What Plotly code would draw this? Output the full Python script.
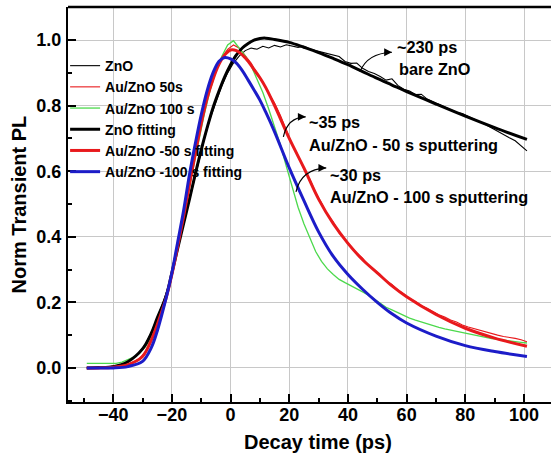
import plotly.graph_objects as go

# ---------------- data ----------------
t_raw = list(range(-49, 102, 2))

zno_raw = [0.0, 0.0, 0.001, 0.002, 0.004, 0.006, 0.01, 0.02, 0.031, 0.048, 0.073, 0.108, 0.152, 0.2,
           0.255, 0.328, 0.4, 0.475, 0.552, 0.628, 0.696, 0.76, 0.812, 0.86, 0.9, 0.93, 0.952, 0.968,
           0.976, 0.972, 0.981, 0.976, 0.984, 0.979, 0.986, 0.983, 0.978, 0.982, 0.973, 0.968, 0.963,
           0.958, 0.954, 0.95, 0.935, 0.929, 0.93, 0.914, 0.904, 0.898, 0.889, 0.878, 0.882, 0.862, 0.85,
           0.845, 0.834, 0.835, 0.82, 0.812, 0.806, 0.797, 0.79, 0.78, 0.776, 0.768, 0.76, 0.75, 0.742,
           0.732, 0.722, 0.71, 0.702, 0.693, 0.678, 0.662]

au50_raw = [0.0, 0.001, 0.0, 0.001, 0.002, 0.004, 0.007, 0.011, 0.018, 0.029, 0.05, 0.087, 0.132, 0.182,
            0.248, 0.33, 0.418, 0.512, 0.61, 0.702, 0.785, 0.855, 0.907, 0.946, 0.972, 0.985, 0.975, 0.952,
            0.93, 0.9, 0.872, 0.838, 0.808, 0.77, 0.726, 0.682, 0.648, 0.605, 0.576, 0.535, 0.503, 0.468,
            0.445, 0.412, 0.392, 0.372, 0.35, 0.335, 0.312, 0.3, 0.282, 0.266, 0.255, 0.238, 0.226, 0.212,
            0.203, 0.19, 0.182, 0.172, 0.162, 0.155, 0.146, 0.14, 0.131, 0.125, 0.12, 0.113, 0.11, 0.103,
            0.1, 0.096, 0.094, 0.09, 0.086, 0.08]

au100_raw = [0.014, 0.014, 0.013, 0.013, 0.012, 0.014, 0.018, 0.025, 0.033, 0.045, 0.065, 0.092, 0.13, 0.185,
             0.252, 0.332, 0.415, 0.505, 0.598, 0.69, 0.772, 0.846, 0.905, 0.95, 0.985, 0.998, 0.975, 0.952,
             0.922, 0.882, 0.84, 0.79, 0.738, 0.68, 0.615, 0.55, 0.49, 0.44, 0.395, 0.355, 0.325, 0.302,
             0.285, 0.27, 0.26, 0.251, 0.243, 0.232, 0.222, 0.21, 0.198, 0.185, 0.177, 0.168, 0.16, 0.152,
             0.146, 0.14, 0.135, 0.13, 0.124, 0.119, 0.115, 0.111, 0.107, 0.103, 0.1, 0.096, 0.092, 0.089,
             0.087, 0.084, 0.082, 0.08, 0.078, 0.076]

t_fit = [-49, -45, -40, -35, -30, -27, -25, -22, -20, -18, -16, -14, -12, -10, -8, -6, -4, -2, 0, 2, 4, 6,
         8, 10, 12, 15, 20, 25, 30, 35, 40, 45, 50, 55, 60, 70, 80, 90, 101]

zno_fit = [0.0, 0.001, 0.004, 0.019, 0.058, 0.106, 0.152, 0.218, 0.29, 0.365, 0.44, 0.515, 0.592, 0.665, 0.732,
           0.793, 0.843, 0.888, 0.925, 0.955, 0.976, 0.99, 1.0, 1.005, 1.006, 1.002, 0.993, 0.978, 0.962,
           0.944, 0.925, 0.904, 0.883, 0.863, 0.843, 0.805, 0.768, 0.733, 0.697]

au50_fit = [0.0, 0.0, 0.002, 0.01, 0.035, 0.085, 0.132, 0.212, 0.285, 0.372, 0.462, 0.56, 0.655, 0.745, 0.822,
            0.88, 0.925, 0.955, 0.97, 0.968, 0.955, 0.935, 0.91, 0.885, 0.855, 0.8, 0.7, 0.61, 0.515, 0.44,
            0.38, 0.33, 0.29, 0.25, 0.217, 0.163, 0.121, 0.091, 0.066]

au100_fit = [0.0, 0.0, 0.0, 0.004, 0.02, 0.062, 0.112, 0.212, 0.29, 0.385, 0.48, 0.59, 0.685, 0.772, 0.845,
             0.9, 0.935, 0.947, 0.943, 0.93, 0.907, 0.878, 0.848, 0.817, 0.78, 0.72, 0.61, 0.51, 0.415,
             0.34, 0.285, 0.24, 0.2, 0.165, 0.137, 0.097, 0.068, 0.05, 0.035]

x_ticks = [-40, -20, 0, 20, 40, 60, 80, 100]
y_ticks = [0.0, 0.2, 0.4, 0.6, 0.8, 1.0]

# ---------------- styles ----------------
FONT = "Arial, Liberation Sans, Helvetica, sans-serif"
RED = "#e8191c"
GREEN = "#4cd94c"
BLUE = "#1c1cc8"
BLACK = "#000000"

fig = go.Figure()
series = [
    ("ZnO", t_raw, zno_raw, BLACK, 1.1, "linear"),
    ("Au/ZnO 50s", t_raw, au50_raw, RED, 1.1, "linear"),
    ("Au/ZnO 100 s", t_raw, au100_raw, GREEN, 1.3, "linear"),
    ("ZnO fitting", t_fit, zno_fit, BLACK, 3, "spline"),
    ("Au/ZnO -50 s fitting", t_fit, au50_fit, RED, 3, "spline"),
    ("Au/ZnO -100 s fitting", t_fit, au100_fit, BLUE, 3, "spline"),
]
for name, xs, ys, col, w, shp in series:
    fig.add_trace(go.Scatter(x=xs, y=ys, mode="lines", name=name,
                             line=dict(color=col, width=w, shape=shp)))

axis_common = dict(
    showgrid=True, gridcolor="#c8c8c8", gridwidth=1, zeroline=False,
    showline=True, linecolor="black", linewidth=2,
    ticks="inside", ticklen=8, tickwidth=2, tickcolor="black",
    tickfont=dict(family=FONT, size=18, color="black", weight="bold"),
)
fig.update_xaxes(range=[-55.4, 109.2], tickvals=x_ticks,
                 minor=dict(ticks="inside", ticklen=4, tickwidth=2, dtick=10, tick0=0,
                            tickcolor="black", showgrid=False),
                 ticklabelstandoff=-5, **axis_common)
fig.update_yaxes(range=[-0.104, 1.101], tickvals=y_ticks, tickformat=".1f",
                 minor=dict(ticks="inside", ticklen=4, tickwidth=2, dtick=0.1, tick0=0,
                            tickcolor="black", showgrid=False),
                 ticklabelstandoff=1, **axis_common)

# top frame line (right edge lies beyond the visible area)
fig.add_shape(type="line", xref="paper", yref="paper", x0=0, x1=1, y0=1, y1=1,
              line=dict(color="black", width=2.5))

# axis titles
fig.add_annotation(text="Decay time (ps)", xref="paper", yref="paper", x=0.5176, y=-0.101,
                   showarrow=False, xanchor="center", yanchor="middle",
                   font=dict(family=FONT, size=20, color="black", weight="bold"))
fig.add_annotation(text="Norm Transient PL", xref="paper", yref="paper", x=-0.1035, y=0.5,
                   textangle=-90, showarrow=False, xanchor="center", yanchor="middle",
                   font=dict(family=FONT, size=20, color="black", weight="bold"))

# text labels
ann_font = dict(family=FONT, size=16.3, color="black", weight="bold")
labels = [
    ("~230 ps", 56.0, 0.98),
    ("bare ZnO", 56.6, 0.911),
    ("~35 ps", 26.0, 0.751),
    ("Au/ZnO - 50 s sputtering", 26.0, 0.68),
    ("~30 ps", 33.3, 0.588),
    ("Au/ZnO - 100 s sputtering", 33.3, 0.522),
]
for txt, lx, ly in labels:
    fig.add_annotation(text=txt, x=lx, y=ly, xref="x", yref="y", showarrow=False,
                       xanchor="left", yanchor="middle", font=ann_font)

# curved arrows
arrows = [
    ((44.1, 0.903), (46.5, 0.96), (55.0, 0.963)),
    ((18.0, 0.705), (19.4, 0.765), (25.6, 0.766)),
    ((22.3, 0.537), (24.0, 0.606), (32.6, 0.61)),
]
for (x0, y0), (cx, cy), (x1, y1) in arrows:
    fig.add_shape(type="path", xref="x", yref="y",
                  path=f"M {x0},{y0} Q {cx},{cy} {x1},{y1}",
                  line=dict(color="black", width=1.2))
    fig.add_annotation(x=x1, y=y1, xref="x", yref="y", ax=-9, ay=0, text="",
                       showarrow=True, arrowhead=2, arrowsize=1.3, arrowwidth=1.2,
                       arrowcolor="black")

fig.update_layout(
    width=551, height=456,
    margin=dict(l=68, r=0, t=7, b=54),
    paper_bgcolor="white", plot_bgcolor="white",
    showlegend=True,
    legend=dict(x=-0.006, y=0.891, xanchor="left", yanchor="top",
                bgcolor="rgba(0,0,0,0)", borderwidth=0, itemwidth=30,
                font=dict(family=FONT, size=14, color="black", weight="bold")),
)

fig.write_html("out.html", config={"displayModeBar": False},
               post_script="document.body.style.margin='0';document.body.style.overflow='hidden';")
